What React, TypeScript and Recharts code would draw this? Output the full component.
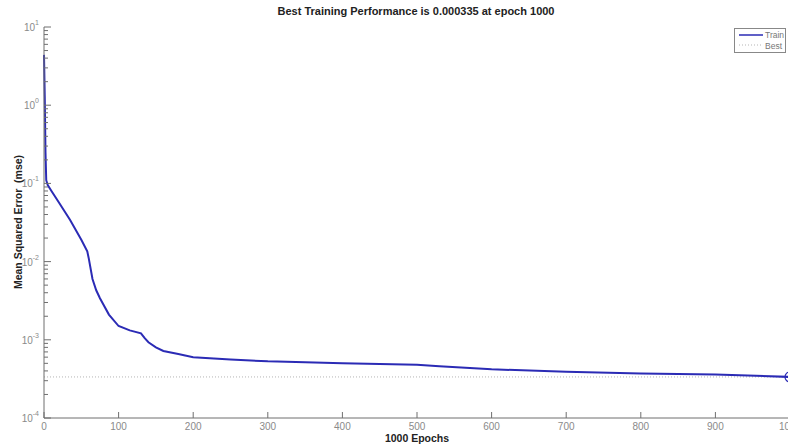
import React from 'react';
import {
  ComposedChart,
  Line,
  XAxis,
  YAxis,
  ReferenceLine,
  ReferenceDot,
} from 'recharts';

// training record: epoch -> mean squared error
const epochs = [
  0, 1, 2, 3, 5, 10, 20, 35, 50, 58, 60, 65, 70, 75, 87, 100, 115, 130, 135,
  140, 150, 160, 180, 200, 250, 300, 400, 500, 530, 600, 700, 800, 900, 1000,
];
const mse = [
  4.4, 1.3, 0.25, 0.11, 0.095, 0.08, 0.057, 0.034, 0.019, 0.0135, 0.011,
  0.006, 0.0043, 0.0034, 0.0021, 0.0015, 0.00132, 0.00121, 0.00105, 0.00093,
  0.0008, 0.00072, 0.00066, 0.0006, 0.00056, 0.00053, 0.0005, 0.00048,
  0.00046, 0.00042, 0.00039, 0.00037, 0.00036, 0.000335,
];
const bestEpoch = 1000;
const bestMse = 0.000335;

const xTicks = [0, 100, 200, 300, 400, 500, 600, 700, 800, 900, 1000];
const decades = [-4, -3, -2, -1, 0, 1];

// log axis: decades plus 2..9 minor ticks
const yTicks: number[] = [];
decades.forEach((d) => {
  if (d === 1) {
    yTicks.push(10);
    return;
  }
  for (let m = 1; m <= 9; m++) yTicks.push(m * Math.pow(10, d));
});

const data = epochs.map((e, i) => ({ epoch: e, train: mse[i] }));

const FONT = '"Liberation Sans", Arial, sans-serif';
const BLUE = '#2b2bb5';
const AXIS = '#6f6f6f';

const YTick = (props: any) => {
  const { x, y, payload } = props;
  const exp = Math.log10(payload.value);
  const major = Math.abs(exp - Math.round(exp)) < 1e-6;
  return (
    <g>
      <line x1={x} x2={x + (major ? 7 : 4)} y1={y} y2={y} stroke={AXIS} strokeWidth={1} />
      {major && (
        <text x={x - 5} y={y + 4} textAnchor="end" fontSize={10} fill="#8a8a8a" fontFamily={FONT}>
          10
          <tspan dy={-6} fontSize={7}>
            {Math.round(exp)}
          </tspan>
        </text>
      )}
    </g>
  );
};

const XTick = (props: any) => {
  const { x, y, payload } = props;
  return (
    <g>
      <line x1={x} x2={x} y1={y} y2={y - 6} stroke={AXIS} strokeWidth={1} />
      <text x={x} y={y + 12} textAnchor="middle" fontSize={10} fill="#8a8a8a" fontFamily={FONT}>
        {payload.value}
      </text>
    </g>
  );
};

const App: React.FC = () => {
  return (
    <div
      style={{
        position: 'absolute',
        left: 0,
        top: 0,
        width: 788,
        height: 444,
        overflow: 'hidden',
        background: '#fff',
        fontFamily: FONT,
      }}
    >
      <div
        style={{
          position: 'absolute',
          top: 5,
          left: 0,
          width: 832,
          textAlign: 'center',
          fontSize: 11,
          fontWeight: 'bold',
          color: '#222',
        }}
      >
        Best Training Performance is 0.000335 at epoch 1000
      </div>

      <ComposedChart
        width={792}
        height={444}
        data={data}
        margin={{ top: 27, right: 2, bottom: 0, left: 0 }}
      >
        <XAxis
          dataKey="epoch"
          type="number"
          domain={[0, 1000]}
          ticks={xTicks}
          height={26}
          stroke={AXIS}
          tickLine={false}
          tickSize={0}
          tickMargin={0}
          tick={<XTick />}
          interval={0}
        />
        <YAxis
          type="number"
          scale="log"
          domain={[1e-4, 10]}
          ticks={yTicks}
          allowDataOverflow
          width={44}
          stroke={AXIS}
          tickLine={false}
          tickSize={0}
          tickMargin={0}
          tick={<YTick />}
          interval={0}
        />
        <ReferenceLine
          y={bestMse}
          stroke="#b5b5b5"
          strokeDasharray="1 2"
          strokeWidth={1}
        />
        <Line
          type="linear"
          dataKey="train"
          stroke={BLUE}
          strokeWidth={2}
          dot={false}
          isAnimationActive={false}
        />
        <ReferenceDot
          x={bestEpoch}
          y={bestMse}
          r={5}
          fill="none"
          stroke={BLUE}
          strokeWidth={1.2}
        />
      </ComposedChart>

      <div
        style={{
          position: 'absolute',
          top: 432,
          left: 377,
          width: 80,
          textAlign: 'center',
          fontSize: 10.5,
          fontWeight: 'bold',
          color: '#222',
        }}
      >
        1000 Epochs
      </div>

      <div
        style={{
          position: 'absolute',
          left: 18,
          top: 222,
          transform: 'translate(-50%, -50%) rotate(-90deg)',
          whiteSpace: 'nowrap',
          fontSize: 10.5,
          fontWeight: 'bold',
          color: '#222',
        }}
      >
        Mean Squared Error&nbsp;&nbsp;(mse)
      </div>

      <div
        style={{
          position: 'absolute',
          left: 734,
          top: 28,
          width: 50,
          height: 23,
          border: '1px solid #888',
          background: '#fff',
          fontSize: 8.5,
          color: '#777',
        }}
      >
        <div style={{ display: 'flex', alignItems: 'center', height: 11 }}>
          <svg width={28} height={11}>
            <line x1={4} x2={28} y1={6} y2={6} stroke={BLUE} strokeWidth={1.5} />
          </svg>
          <span style={{ marginLeft: 2 }}>Train</span>
        </div>
        <div style={{ display: 'flex', alignItems: 'center', height: 11 }}>
          <svg width={28} height={11}>
            <line x1={4} x2={28} y1={5} y2={5} stroke="#b5b5b5" strokeWidth={1} strokeDasharray="1 2" />
          </svg>
          <span style={{ marginLeft: 2 }}>Best</span>
        </div>
      </div>
    </div>
  );
};

export default App;
